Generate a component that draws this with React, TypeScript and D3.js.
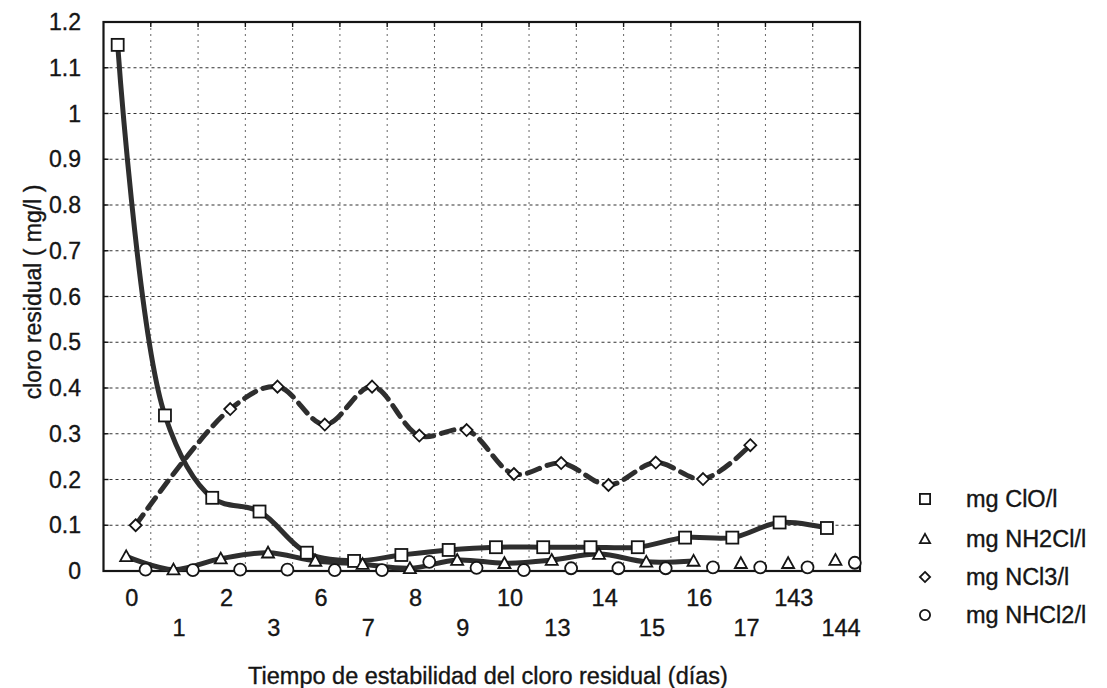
import React from "react";
import * as d3 from "d3";

const categories = ["0", "1", "2", "3", "6", "7", "8", "9", "10", "13", "14", "15", "16", "17", "143", "144"];
const yTicks = [0, 0.1, 0.2, 0.3, 0.4, 0.5, 0.6, 0.7, 0.8, 0.9, 1, 1.1, 1.2];

const cloValues = [1.15, 0.34, 0.16, 0.13, 0.04, 0.022, 0.035, 0.046, 0.052, 0.052, 0.052, 0.052, 0.073, 0.073, 0.106, 0.094];
const nh2clValues = [0.032, 0.003, 0.027, 0.04, 0.022, 0.015, 0.006, 0.024, 0.017, 0.024, 0.037, 0.02, 0.022, 0.017, 0.017, 0.024];
const ncl3Values: (number | null)[] = [0.1, null, 0.354, 0.403, 0.32, 0.403, 0.296, 0.308, 0.212, 0.236, 0.188, 0.237, 0.201, 0.275, null, null];
const nhcl2Values = [0.003, 0.002, 0.003, 0.003, 0.002, 0.002, 0.02, 0.007, 0.002, 0.006, 0.006, 0.006, 0.008, 0.008, 0.008, 0.018];

const seriesNames = ["mg ClO/l", "mg NH2Cl/l", "mg NCl3/l", "mg NHCl2/l"];

type Series = {
  name: string;
  values: (number | null)[];
  marker: "square" | "triangle" | "diamond" | "circle";
  offset: number;
  lineUntil: number;
  dash: string | null;
};

const series: Series[] = [
  { name: seriesNames[0], values: cloValues, marker: "square", offset: 0.3, lineUntil: 16, dash: null },
  { name: seriesNames[1], values: nh2clValues, marker: "triangle", offset: 0.48, lineUntil: 13, dash: null },
  { name: seriesNames[2], values: ncl3Values, marker: "diamond", offset: 0.68, lineUntil: 14, dash: "13,8" },
  { name: seriesNames[3], values: nhcl2Values, marker: "circle", offset: 0.89, lineUntil: 0, dash: null },
];

const W = 1107;
const H = 688;
const L = 103.5;
const R = 860;
const T = 22;
const B = 571;
const FONT = "'Liberation Sans', Arial, sans-serif";
const INK = "#151515";

function Marker({ kind, x, y, s = 1 }: { kind: string; x: number; y: number; s?: number }) {
  const common = { fill: "#fff", stroke: INK, strokeWidth: 1.8 };
  if (kind === "square") {
    const h = 6 * s;
    return <rect x={x - h} y={y - h} width={2 * h} height={2 * h} {...common} />;
  }
  if (kind === "triangle") {
    const h = 6 * s;
    return <path d={`M${x},${y - h}L${x + h},${y + h * 0.8}L${x - h},${y + h * 0.8}Z`} {...common} />;
  }
  if (kind === "diamond") {
    const h = 6 * s;
    return <path d={`M${x},${y - h}L${x + h},${y}L${x},${y + h}L${x - h},${y}Z`} {...common} />;
  }
  return <circle cx={x} cy={y} r={6 * s} {...common} />;
}

export default function App() {
  const x = d3.scaleBand<string>().domain(categories).range([L, R]).padding(0);
  const bw = x.bandwidth();
  const y = d3.scaleLinear().domain([0, 1.2]).range([B, T]);

  const px = (i: number, s: Series) => (x(categories[i]) as number) + s.offset * bw;

  const line = d3
    .line<[number, number]>()
    .x((d) => d[0])
    .y((d) => d[1])
    .curve(d3.curveCatmullRom.alpha(0.5));

  const legendRows = [499, 539, 577, 615];
  const textStyle = { fill: INK, stroke: INK, strokeWidth: 0.35 };

  return (
    <svg width={W} height={H} style={{ position: "absolute", left: 0, top: 0, background: "#fff" }} fontFamily={FONT}>
      <rect x={0} y={0} width={W} height={H} fill="#fff" />
      {/* grid */}
      {yTicks.slice(1, -1).map((t) => (
        <line key={"h" + t} x1={L} x2={R} y1={y(t)} y2={y(t)} stroke="#333" strokeWidth={1.2} strokeDasharray="3,3" />
      ))}
      {categories.slice(1).map((c) => (
        <line key={"v" + c} x1={x(c)} x2={x(c)} y1={T} y2={B} stroke="#666" strokeWidth={1} strokeDasharray="2,4" />
      ))}
      {/* ticks */}
      {yTicks.map((t) => (
        <g key={"t" + t}>
          <line x1={L} x2={L + 5} y1={y(t)} y2={y(t)} stroke={INK} strokeWidth={1.4} />
          <line x1={R - 5} x2={R} y1={y(t)} y2={y(t)} stroke={INK} strokeWidth={1.4} />
        </g>
      ))}
      {categories.slice(1).map((c) => (
        <line key={"tt" + c} x1={x(c)} x2={x(c)} y1={T} y2={T + 5} stroke={INK} strokeWidth={1.4} />
      ))}
      {/* frame */}
      <rect x={L} y={T} width={R - L} height={B - T} fill="none" stroke={INK} strokeWidth={2.2} />

      {/* lines */}
      {series.map((s) => {
        const pts: [number, number][] = [];
        s.values.forEach((v, i) => {
          if (v != null && i < s.lineUntil) pts.push([px(i, s), y(v)]);
        });
        if (pts.length < 2) return null;
        return (
          <path
            key={"l" + s.name}
            d={line(pts) || ""}
            fill="none"
            stroke="#2e2e2e"
            strokeWidth={5}
            strokeDasharray={s.dash || undefined}
            strokeLinecap="round"
            strokeLinejoin="round"
          />
        );
      })}
      {/* markers */}
      {series.map((s) =>
        s.values.map((v, i) =>
          v == null ? null : <Marker key={s.name + i} kind={s.marker} x={px(i, s)} y={y(v)} />
        )
      )}

      {/* y tick labels */}
      {yTicks.map((t) => (
        <text key={"yl" + t} x={81} y={y(t)} textAnchor="end" dominantBaseline="central" fontSize={23} {...textStyle}>
          {d3.format("")(+t.toFixed(1))}
        </text>
      ))}
      {/* x tick labels */}
      {categories.map((c, i) => (
        <text
          key={"xl" + c}
          x={(x(c) as number) + bw * 0.6}
          y={i % 2 === 0 ? 598 : 628}
          textAnchor="middle"
          dominantBaseline="central"
          fontSize={23.5}
          {...textStyle}
        >
          {c}
        </text>
      ))}
      {/* axis titles */}
      <text x={488} y={676} textAnchor="middle" dominantBaseline="central" fontSize={23.5} {...textStyle}>
        Tiempo de estabilidad del cloro residual (días)
      </text>
      <text
        transform={`translate(33,292) rotate(-90)`}
        textAnchor="middle"
        dominantBaseline="central"
        fontSize={23}
        {...textStyle}
      >
        cloro residual ( mg/l )
      </text>

      {/* legend */}
      {series.map((s, i) => (
        <g key={"lg" + s.name}>
          <Marker kind={s.marker} x={925} y={legendRows[i]} s={0.85} />
          <text x={966} y={legendRows[i]} dominantBaseline="central" fontSize={23.5} {...textStyle}>
            {s.name}
          </text>
        </g>
      ))}
    </svg>
  );
}
